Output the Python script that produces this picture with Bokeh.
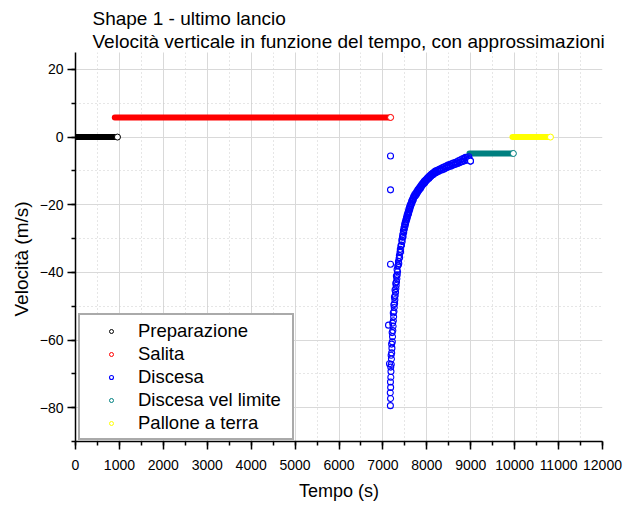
from bokeh.plotting import figure
from bokeh.models import (Range1d, SingleIntervalTicker, Title, Legend, LegendItem,
                          ColumnDataSource)
from bokeh.embed import file_html
from bokeh.resources import INLINE

FONT = "Liberation Sans"

# Flat phases of the flight: time span (s) and constant vertical speed (m/s)
phase_names = ["Preparazione", "Salita", "Discesa vel limite", "Pallone a terra"]
phase_start = [0, 895, 8970, 9950]
phase_end = [955, 7175, 9970, 10815]
phase_velocity = [0.0, 5.8, -4.85, 0.0]
phase_colors = ["#000000", "#ff0000", "#008080", "#ffff00"]

# Descent samples: time (s)
descent_time = [
    7173, 7173, 7173, 7128, 7150,
    7170, 7174, 7168, 7176, 7172, 7180, 7183, 7178, 7190, 7194,
    7187, 7200, 7205, 7198, 7214, 7219, 7210, 7226, 7232, 7222,
    7238, 7244, 7236, 7252, 7258, 7248, 7266, 7272, 7262, 7280,
    7288, 7276, 7296, 7303, 7292, 7310, 7318, 7306, 7326, 7334,
    7322,
    7340, 7347, 7354, 7361, 7368, 7375, 7382, 7389, 7396, 7403,
    7410, 7417, 7424, 7431, 7438, 7445, 7452, 7459, 7466, 7473,
    7480, 7487, 7494, 7501, 7508, 7515, 7522, 7529, 7536, 7543,
    7550, 7557, 7564, 7571, 7578, 7585, 7592, 7599, 7606, 7613,
    7620, 7628, 7636, 7644, 7652, 7660, 7668, 7676, 7684, 7692,
    7700,
    7712, 7724, 7736, 7748, 7760, 7772, 7784, 7796, 7808, 7820,
    7832, 7844, 7856, 7868, 7880, 7892, 7904, 7916, 7928, 7940,
    7952, 7964, 7976, 7988, 8000, 8012, 8024, 8036, 8048, 8060,
    8072, 8084, 8096, 8108, 8120, 8132, 8144, 8156, 8168, 8180,
    8192, 8204,
    8220, 8240, 8260, 8280, 8300, 8320, 8340, 8360, 8380, 8400,
    8420, 8440, 8460, 8480, 8500, 8520, 8540, 8560, 8580, 8600,
    8620, 8640, 8660, 8680, 8700, 8720, 8740, 8760, 8780, 8800,
    8820, 8840, 8860, 8880, 8900, 8920, 8940, 8955, 8970, 8994,
]
# Descent samples: vertical speed (m/s)
descent_velocity = [
    -5.6, -15.6, -37.6, -55.6, -67.0,
    -79.4, -77.3, -75.6, -74.0, -72.4, -71.0, -69.3, -68.0, -67.2, -65.6,
    -64.5, -63.8, -62.4, -61.2, -60.5, -59.0, -57.8, -57.2, -55.9, -55.0,
    -54.3, -53.1, -52.0, -51.6, -50.4, -49.6, -49.2, -48.1, -47.3, -46.9,
    -45.9, -45.2, -44.8, -43.9, -43.2, -42.8, -41.9, -41.1, -40.7, -39.8,
    -39.2,
    -38.1, -37.9, -36.8, -37.4, -35.9, -35.0, -35.6, -34.1, -33.2, -33.8,
    -32.3, -31.9, -32.0, -30.4, -30.9, -29.6, -28.8, -29.5, -27.7, -28.2,
    -26.8, -27.3, -25.9, -26.5, -25.2, -25.7, -24.5, -25.0, -23.9, -24.3,
    -23.1, -23.8, -22.6, -23.1, -22.0, -22.5, -21.3, -21.9, -20.8, -21.3,
    -20.2, -20.7, -19.7, -20.1, -19.1, -19.6, -18.6, -19.0, -18.2, -18.6,
    -17.6,
    -17.7, -17.0, -17.5, -16.6, -17.0, -16.1, -16.5, -15.6, -16.0, -15.2,
    -15.6, -14.8, -15.1, -14.3, -14.7, -13.9, -14.2, -13.5, -13.9, -13.1,
    -13.5, -12.8, -13.1, -12.5, -12.8, -12.1, -12.5, -11.8, -12.2, -11.5,
    -11.9, -11.2, -11.6, -10.9, -11.3, -10.7, -11.1, -10.5, -10.8, -10.2,
    -10.6, -10.0,
    -10.4, -9.8, -10.2, -9.5, -9.9, -9.3, -9.7, -9.0, -9.5, -8.8,
    -9.3, -8.6, -9.0, -8.3, -8.8, -8.1, -8.6, -7.9, -8.4, -7.7,
    -8.2, -7.5, -8.0, -7.3, -7.8, -7.0, -7.6, -6.8, -7.4, -6.5,
    -7.2, -6.3, -7.0, -6.0, -6.8, -6.1, -6.7, -5.8, -6.5, -7.1,
]
descent_color = "#0000ff"

p = figure(
    width=624, height=506,
    x_range=Range1d(0, 12000), y_range=Range1d(-90, 25),
    output_backend="svg", toolbar_location=None, title=None,
    min_border_left=75, min_border_right=22, min_border_top=52, min_border_bottom=65,
)
p.outline_line_color = None
p.background_fill_color = "white"
p.border_fill_color = "white"

# Two-line heading (later additions stack further from the frame)
for txt, so in [("Velocità verticale in funzione del tempo, con approssimazioni", 1),
                ("Shape 1 - ultimo lancio", 0)]:
    t = Title(text=txt, text_font=FONT, text_font_size="19px",
              text_font_style="normal", text_color="black",
              align="left", offset=17, standoff=so)
    p.add_layout(t, "above")

# Axes
p.xaxis.ticker = SingleIntervalTicker(interval=1000, num_minor_ticks=2)
p.yaxis.ticker = SingleIntervalTicker(interval=20, num_minor_ticks=2)
for ax in (p.xaxis[0], p.yaxis[0]):
    ax.axis_line_width = 1.5
    ax.axis_line_color = "black"
    ax.major_tick_line_width = 1.5
    ax.minor_tick_line_width = 1.5
    ax.major_tick_line_color = "black"
    ax.minor_tick_line_color = "black"
    ax.major_tick_in = 0
    ax.major_tick_out = 8
    ax.minor_tick_in = 0
    ax.minor_tick_out = 4
    ax.major_label_text_font = FONT
    ax.major_label_text_font_size = "14px"
    ax.major_label_text_color = "black"
    ax.axis_label_text_font = FONT
    ax.axis_label_text_font_size = "18px"
    ax.axis_label_text_font_style = "normal"
    ax.axis_label_text_color = "black"
p.xaxis.major_label_standoff = 10
p.yaxis.major_label_standoff = 4
p.xaxis.axis_label = "Tempo (s)"
p.xaxis.axis_label_standoff = 8

# Vertical axis title as a side title, starting a little above the frame bottom
p.add_layout(Title(
    text="Velocità (m/s)", text_font=FONT, text_font_size="19px",
    text_font_style="normal", text_color="black",
    align="left", offset=125, standoff=9,
), "left")

# Grid: solid major lines, dotted minor lines
p.grid.grid_line_color = "#d9d9d9"
p.grid.grid_line_width = 1
p.grid.minor_grid_line_color = "#cccccc"
p.grid.minor_grid_line_dash = "1 3"

# Flat phases: dense hollow markers merge into a band; last sample stays open
phase_renderers = {}
for name, t0, t1, v, c in zip(phase_names, phase_start, phase_end, phase_velocity, phase_colors):
    src = ColumnDataSource(dict(x0=[t0], x1=[t1], y=[v]))
    p.segment(x0="x0", y0="y", x1="x1", y1="y", source=src,
              line_color=c, line_width=6, line_cap="round")
    end_src = ColumnDataSource(dict(x=[t1], y=[v]))
    r = p.scatter(x="x", y="y", source=end_src, marker="circle", size=6,
                  fill_color="white", line_color=c, line_width=1)
    phase_renderers[name] = r

# Descent samples as open circles, the final sample drawn on top with white fill
order = sorted(range(len(descent_time)), key=lambda i: descent_time[i])
dsrc = ColumnDataSource(dict(
    t=[descent_time[i] for i in order],
    v=[descent_velocity[i] for i in order],
))
descent_r = p.scatter(x="t", y="v", source=dsrc, marker="circle", size=6,
                      fill_color=None, line_color=descent_color, line_width=1.1)
last = order[-1]
p.scatter(x=[descent_time[last]], y=[descent_velocity[last]], marker="circle", size=6,
          fill_color="white", line_color=descent_color, line_width=1.1)

legend = Legend(items=[
    LegendItem(label="Preparazione", renderers=[phase_renderers["Preparazione"]]),
    LegendItem(label="Salita", renderers=[phase_renderers["Salita"]]),
    LegendItem(label="Discesa", renderers=[descent_r]),
    LegendItem(label="Discesa vel limite", renderers=[phase_renderers["Discesa vel limite"]]),
    LegendItem(label="Pallone a terra", renderers=[phase_renderers["Pallone a terra"]]),
], location=(3, 1))
legend.label_text_font = FONT
legend.label_text_font_size = "18.5px"
legend.label_text_color = "black"
legend.padding = 4
legend.spacing = 0
legend.margin = 0
legend.glyph_width = 54
legend.glyph_height = 10
legend.label_height = 23
legend.label_width = 150
legend.label_standoff = 0
legend.border_line_color = "#555555"
legend.border_line_width = 2
legend.background_fill_color = "white"
legend.background_fill_alpha = 1
p.add_layout(legend)

open("out.html", "w").write(file_html(p, INLINE))
